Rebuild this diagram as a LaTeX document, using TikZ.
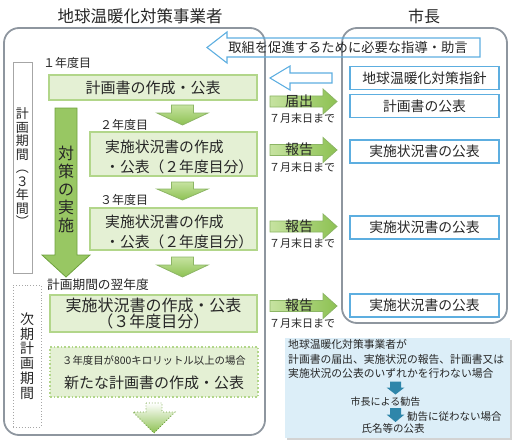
\documentclass[tikz,border=0pt]{standalone}
\usepackage{fontspec}
\setmainfont{Noto Sans CJK JP}
\usepackage{xcolor}
\usetikzlibrary{shadows}
\definecolor{gfill}{HTML}{E4F0D4}
\definecolor{gline}{HTML}{B2D68A}
\definecolor{glight}{HTML}{C6E3A0}
\definecolor{garrow}{HTML}{8DC152}
\definecolor{gdark}{HTML}{6FA23E}
\definecolor{bline}{HTML}{5DAEE0}
\definecolor{bfill}{HTML}{DCEEF8}
\definecolor{panel}{HTML}{8E969F}
\definecolor{tealarrow}{HTML}{2F86AA}

\begin{document}
\begin{tikzpicture}[x=1pt,y=-1pt,
  every node/.style={text=black!85,inner sep=0pt},
  panelbox/.style={draw=panel,line width=1.8pt,rounded corners=15pt},
  gbox/.style={draw=gline,fill=gfill,line width=1.6pt},
  gdots/.style={draw=gline,fill=gfill,line width=1.6pt,dotted},
  bbox/.style={draw=bline,fill=white,line width=1.1pt,minimum width=149pt,minimum height=23pt,font=\fontsize{13.8}{16}\selectfont},
  downarr/.style={draw=gdark!80,line width=0.8pt,top color=glight,bottom color=garrow},
  rightarr/.style={draw=gdark!80,line width=0.8pt,left color=glight,right color=garrow},
  hollow/.style={draw=bline,line width=1.1pt},
  nendo/.style={font=\fontsize{12}{14}\selectfont,anchor=west},
  kigen/.style={font=\fontsize{11}{13}\selectfont},
  todoke/.style={font=\fontsize{14}{16}\selectfont},
  jokyo/.style={anchor=west,align=left,font=\fontsize{14.8}{20}\selectfont}]
\useasboundingbox (0,0) rectangle (517,444);

\node[font=\fontsize{16.5}{18}\selectfont] (jigyosha) at (140,16) {地球温暖化対策事業者};
\node[font=\fontsize{16}{18}\selectfont] (shicho) at (424,16) {市長};

\node[panelbox,minimum width=261pt,minimum height=407pt] (leftpanel) at (134.5,231.5) {};
\node[panelbox,minimum width=165pt,minimum height=295pt] (rightpanel) at (424.5,175.5) {};

% shido jogen
\draw[hollow] (207,47.5)--(227,32)--(227,38)--(480,38)--(480,57)--(227,57)--(227,63)--cycle;
\node[font=\fontsize{13.3}{16}\selectfont] (shido) at (348,47.5) {取組を促進するために必要な指導・助言};
\draw[hollow] (270,78)--(290,66)--(290,73)--(332,73)--(332,83)--(290,83)--(290,90)--cycle;

\node[bbox] (shishin) at (424.5,78) {地球温暖化対策指針};
\node[bbox] (kohyo1) at (424.5,106) {計画書の公表};
\node[bbox] (kohyo2) at (424.5,151.5) {実施状況書の公表};
\node[bbox] (kohyo3) at (424.5,227.5) {実施状況書の公表};
\node[bbox] (kohyo4) at (424.5,305.5) {実施状況書の公表};

\draw[rightarr] (270,96)--(323,96)--(323,89)--(337,101.5)--(323,114)--(323,107)--(270,107)--cycle;
\draw[rightarr] (270,144.5)--(323,144.5)--(323,137.5)--(337,150)--(323,162.5)--(323,155.5)--(270,155.5)--cycle;
\draw[rightarr] (270,221)--(323,221)--(323,214)--(337,226.5)--(323,239)--(323,232)--(270,232)--cycle;
\draw[rightarr] (270,300.5)--(323,300.5)--(323,293.5)--(337,306)--(323,318.5)--(323,311.5)--(270,311.5)--cycle;
\node[todoke] (todokede) at (299,101) {届出};
\node[todoke] (hokoku1) at (299,149.5) {報告};
\node[todoke] (hokoku2) at (299,226) {報告};
\node[todoke] (hokoku3) at (299,305.5) {報告};
\node[kigen] (kigen1) at (302,118.5) {７月末日まで};
\node[kigen] (kigen2) at (302,167) {７月末日まで};
\node[kigen] (kigen3) at (302,243.5) {７月末日まで};
\node[kigen] (kigen4) at (302,323) {７月末日まで};

% keikaku kikan
\node[draw=gray!70,line width=0.9pt,fill=white,minimum width=19pt,minimum height=211pt,align=center,font=\fontsize{13}{13.5}\selectfont] (kikan) at (22.5,167.5) {計\\画\\期\\間\\︵\\３\\年\\間\\︶};
\node[draw=gray!70,line width=0.9pt,dotted,minimum width=28pt,minimum height=142pt,align=center,font=\fontsize{14}{14.7}\selectfont] (jiki) at (27,356) {次\\期\\計\\画\\期\\間};

\draw[draw=gdark,line width=0.8pt,fill=garrow!90] (55,108)--(77,108)--(77,255)--(90,255)--(66,277)--(42,255)--(55,255)--cycle;
\node[align=center,font=\fontsize{16}{18}\selectfont] (taisaku) at (66,189) {対\\策\\の\\実\\施};

\node[nendo] (nendo1) at (43,63) {１年度目};
\node[gbox,minimum width=208pt,minimum height=25pt,font=\fontsize{15}{18}\selectfont] (sakusei1) at (153,87.5) {計画書の作成・公表};
\draw[downarr] (171.5,105)--(193.5,105)--(193.5,113)--(208,113)--(182.5,125)--(157,113)--(171.5,113)--cycle;

\node[nendo] (nendo2) at (100,125) {２年度目};
\node[gbox,minimum width=167pt,minimum height=44pt] (sakusei2) at (173.5,154) {};
\node[jokyo] (jokyo2) at (105,157) {実施状況書の作成\\・公表（２年度目分）};
\draw[downarr] (171.5,182)--(193.5,182)--(193.5,189)--(208,189)--(182.5,200)--(157,189)--(171.5,189)--cycle;

\node[nendo] (nendo3) at (100,200) {３年度目};
\node[gbox,minimum width=167pt,minimum height=42pt] (sakusei3) at (173.5,229) {};
\node[jokyo] (jokyo3) at (105,232) {実施状況書の作成\\・公表（２年度目分）};
\draw[downarr] (171.5,257)--(193.5,257)--(193.5,265)--(208,265)--(182.5,277)--(157,265)--(171.5,265)--cycle;

\node[nendo,font=\fontsize{12.7}{14}\selectfont] (yokunendo) at (47,285) {計画期間の翌年度};
\node[gbox,minimum width=207pt,minimum height=37pt,align=center,font=\fontsize{16}{16.5}\selectfont] (sakusei4) at (153.5,313.5) {実施状況書の作成・公表\\（３年度目分）};

\node[gdots,minimum width=208pt,minimum height=50pt] (shinki) at (154,372) {};
\node[font=\fontsize{10.4}{12}\selectfont] (joken) at (154,361) {３年度目が800キロリットル以上の場合};
\node[font=\fontsize{15}{18}\selectfont] (arata) at (154,383) {新たな計画書の作成・公表};
\draw[draw=gdark,line width=0.9pt,dotted,top color=white,bottom color=garrow] (146,403)--(162,403)--(162,412)--(175,412)--(154,433)--(133,412)--(146,412)--cycle;

% kankoku
\node[fill=bfill,minimum width=225pt,minimum height=100pt,drop shadow={opacity=0.35,shadow xshift=2pt,shadow yshift=-2pt}] (ihan) at (397.5,388) {};
\node[anchor=west,align=left,font=\fontsize{10.8}{14.5}\selectfont] (mihikou) at (288,359) {地球温暖化対策事業者が\\計画書の届出、実施状況の報告、計画書又は\\実施状況の公表のいずれかを行わない場合};
\draw[fill=tealarrow,draw=none] (390,381.5)--(401,381.5)--(401,387.5)--(404.5,387.5)--(395.5,394.5)--(386.5,387.5)--(390,387.5)--cycle;
\node[font=\fontsize{10}{12}\selectfont] (kankoku) at (385.5,401.5) {市長による勧告};
\draw[fill=tealarrow,draw=none] (390,408)--(401,408)--(401,414.5)--(404.5,414.5)--(395.5,422)--(386.5,414.5)--(390,414.5)--cycle;
\node[anchor=west,font=\fontsize{10.5}{12}\selectfont] (shitagawanai) at (407,417) {勧告に従わない場合};
\node[font=\fontsize{10.5}{12}\selectfont] (shimei) at (393,428.5) {氏名等の公表};
\end{tikzpicture}
\end{document}
